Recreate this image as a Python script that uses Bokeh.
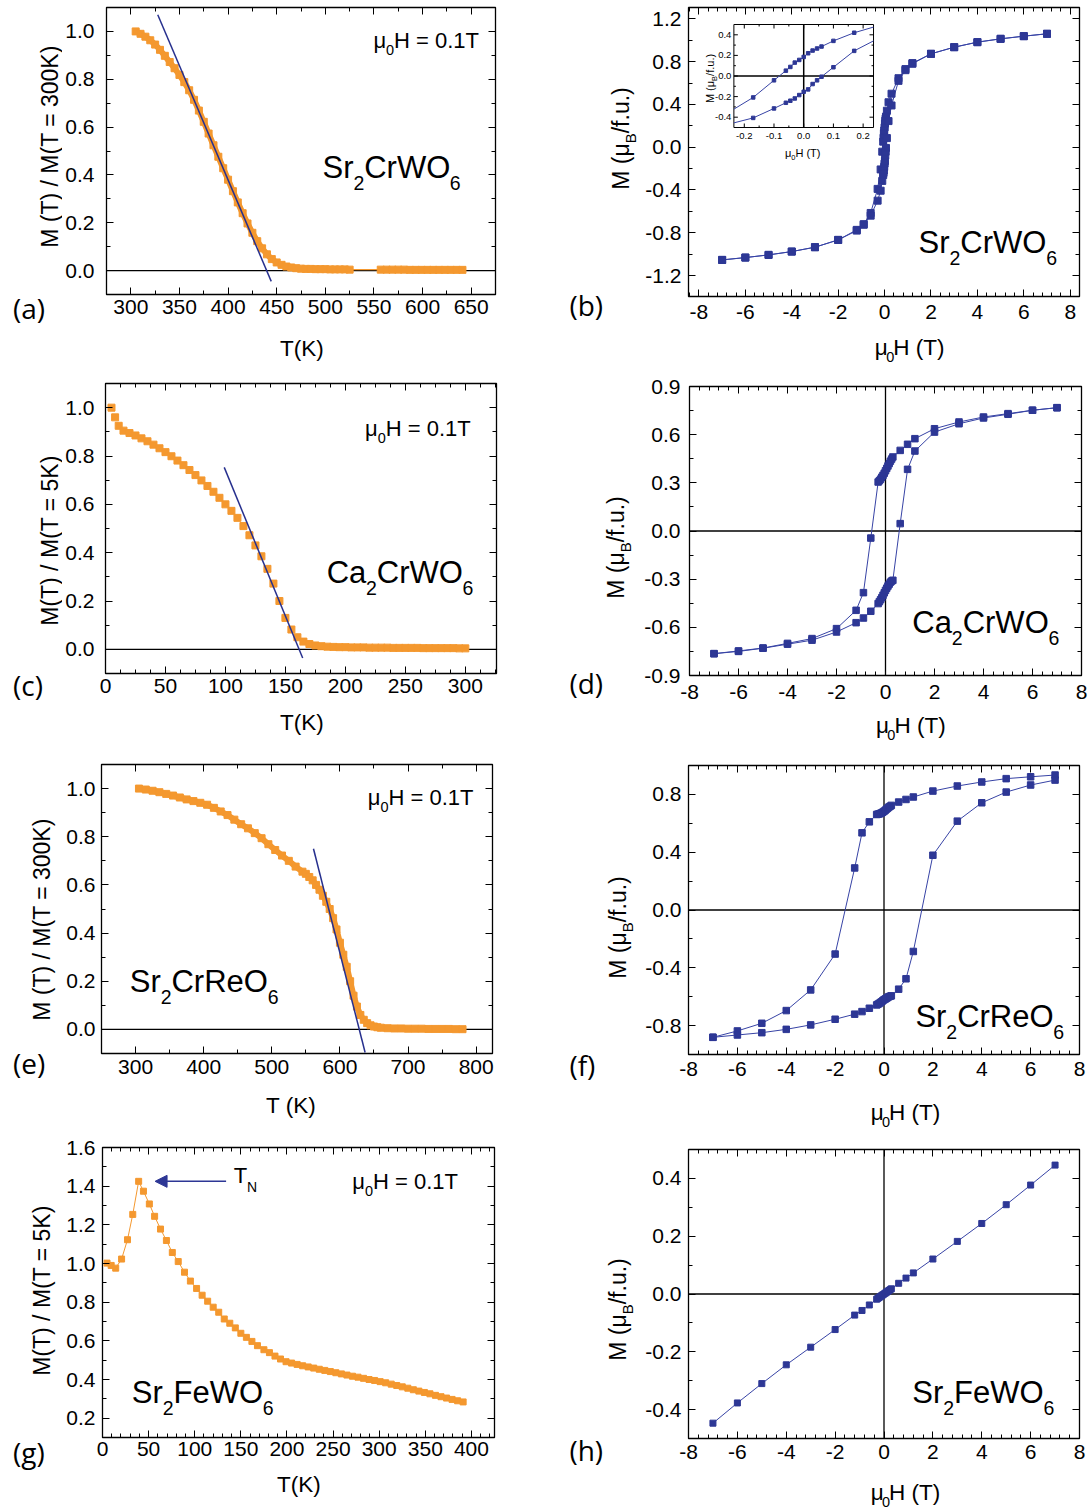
import math
from bokeh.plotting import figure
from bokeh.models import (Range1d, LinearAxis, FixedTicker, CustomJSTickFormatter,
                          Label, Span, Arrow, NormalHead)
from bokeh.layouts import row, column
from bokeh.embed import file_html
from bokeh.resources import INLINE
from bokeh.core.properties import value

# ------------------------------------------------------------------ data
# (a) Sr2CrWO6  M(T)/M(300K)
A_T1 = [305, 310, 315, 320, 325, 330, 335, 340, 345, 350, 355, 360, 365, 370, 375, 380, 385, 390,
        395, 400, 405, 410, 415, 420, 425, 430, 435, 440, 445, 450, 455, 460, 465, 470, 475, 480,
        485, 490, 495, 500, 505, 510, 515, 520, 525]
A_M1 = [1.0, 0.99, 0.978, 0.963, 0.945, 0.923, 0.898, 0.872, 0.846, 0.818, 0.788, 0.754, 0.714,
        0.669, 0.622, 0.573, 0.524, 0.476, 0.428, 0.38, 0.332, 0.285, 0.24, 0.197, 0.158, 0.123,
        0.093, 0.068, 0.048, 0.034, 0.024, 0.017, 0.013, 0.01, 0.008, 0.007, 0.007, 0.006, 0.006,
        0.006, 0.005, 0.005, 0.005, 0.005, 0.004]
A_T2 = [557, 563, 569, 575, 581, 587, 593, 599, 605, 611, 617, 623, 629, 635, 641]
A_M2 = [0.004, 0.004, 0.004, 0.004, 0.004, 0.003, 0.003, 0.003, 0.003, 0.003, 0.003, 0.003,
        0.003, 0.003, 0.003]
FIT_A_T = [327.7, 444.4]
FIT_A_M = [1.07, -0.045]

# (b) Sr2CrWO6 M(H)
B_DN_H = [7, 6, 5, 4, 3, 2, 1.2, 0.9, 0.6, 0.3, 0.17, 0.1, 0.06, 0.045, 0.03, 0.015, 0, -0.015,
          -0.03, -0.045, -0.06, -0.1, -0.17, -0.3, -0.6, -0.9, -1.2, -2, -3, -4, -5, -6, -7]
B_DN_M = [1.06, 1.038, 1.013, 0.982, 0.935, 0.873, 0.786, 0.73, 0.645, 0.5, 0.42, 0.341, 0.286,
          0.267, 0.247, 0.221, 0.185, 0.156, 0.13, 0.088, 0.052, -0.042, -0.208, -0.39, -0.615,
          -0.72, -0.773, -0.867, -0.935, -0.976, -1.007, -1.032, -1.054]
B_UP_H = [-7, -6, -5, -4, -3, -2, -1.2, -0.9, -0.6, -0.3, -0.17, -0.1, -0.06, -0.045, -0.03,
          -0.015, 0, 0.015, 0.03, 0.045, 0.06, 0.1, 0.17, 0.3, 0.6, 0.9, 1.2, 2, 3, 4, 5, 6, 7]
B_UP_M = [-1.054, -1.032, -1.007, -0.976, -0.935, -0.867, -0.78, -0.725, -0.64, -0.5, -0.407,
          -0.315, -0.26, -0.24, -0.218, -0.185, -0.153, -0.13, -0.078, -0.042, -0.007, 0.085,
          0.244, 0.39, 0.62, 0.72, 0.78, 0.873, 0.935, 0.982, 1.013, 1.038, 1.06]
# inset of (b) (first/last entries are where the curve meets the inset frame)
IN_DN_H = [0.235, 0.17, 0.1, 0.06, 0.045, 0.03, 0.015, 0, -0.015, -0.03, -0.045, -0.06, -0.1,
           -0.17, -0.235]
IN_DN_M = [0.475, 0.42, 0.341, 0.286, 0.267, 0.247, 0.221, 0.185, 0.156, 0.13, 0.088, 0.052,
           -0.042, -0.208, -0.322]
IN_UP_H = [-0.235, -0.17, -0.1, -0.06, -0.045, -0.03, -0.015, 0, 0.015, 0.03, 0.045, 0.06, 0.1,
           0.17, 0.235]
IN_UP_M = [-0.455, -0.407, -0.315, -0.26, -0.24, -0.218, -0.185, -0.153, -0.13, -0.078, -0.042,
           -0.007, 0.085, 0.244, 0.341]

# (c) Ca2CrWO6 M(T)/M(5K)
C_T = [5, 8, 11, 15, 20, 25, 30, 35, 40, 45, 50, 55, 60, 65, 70, 75, 80, 85, 90, 95, 100, 105,
       110, 115, 120, 125, 130, 135, 140, 145, 150, 155, 160, 165, 170, 175, 180, 185, 190, 195,
       200, 205, 210, 215, 220, 225, 230, 235, 240, 245, 250, 255, 260, 265, 270, 275, 280, 285,
       290, 295, 300]
C_M = [1.0, 0.96, 0.925, 0.905, 0.895, 0.885, 0.873, 0.861, 0.847, 0.832, 0.816, 0.799, 0.781,
       0.762, 0.742, 0.721, 0.699, 0.676, 0.652, 0.627, 0.6, 0.573, 0.544, 0.51, 0.472, 0.43,
       0.385, 0.333, 0.272, 0.2, 0.13, 0.082, 0.05, 0.032, 0.022, 0.016, 0.013, 0.011, 0.01,
       0.009, 0.009, 0.008, 0.008, 0.008, 0.007, 0.007, 0.007, 0.007, 0.006, 0.006, 0.006, 0.006,
       0.006, 0.005, 0.005, 0.005, 0.005, 0.005, 0.005, 0.004, 0.004]
FIT_C_T = [99, 164.4]
FIT_C_M = [0.753, -0.036]

# field sweeps used in (d) and (f)
SWEEP_DN = [7, 6, 5, 4, 3, 2, 1.2, 0.9, 0.6, 0.3, 0.25, 0.2, 0.15, 0.1, 0.05, 0, -0.05, -0.1,
            -0.15, -0.2, -0.25, -0.3, -0.6, -0.9, -1.2, -2, -3, -4, -5, -6, -7]
SWEEP_UP = [-7, -6, -5, -4, -3, -2, -1.2, -0.9, -0.6, -0.3, -0.25, -0.2, -0.15, -0.1, -0.05, 0,
            0.05, 0.1, 0.15, 0.2, 0.25, 0.3, 0.6, 0.9, 1.2, 2, 3, 4, 5, 6, 7]
# (d) Ca2CrWO6 M(H)
D_DN_M = [0.768, 0.752, 0.731, 0.71, 0.679, 0.637, 0.575, 0.54, 0.502, 0.461, 0.448, 0.435, 0.42,
          0.405, 0.39, 0.375, 0.36, 0.347, 0.335, 0.323, 0.313, 0.305, -0.044, -0.384, -0.494,
          -0.608, -0.67, -0.70, -0.729, -0.747, -0.764]
D_UP_M = [-0.764, -0.75, -0.73, -0.705, -0.68, -0.629, -0.571, -0.542, -0.5, -0.452, -0.44,
          -0.428, -0.415, -0.4, -0.385, -0.37, -0.356, -0.343, -0.331, -0.319, -0.312, -0.307,
          0.046, 0.384, 0.498, 0.616, 0.668, 0.704, 0.727, 0.752, 0.768]

# (e) Sr2CrReO6 M(T)/M(300K)
E_T = [305, 315, 325, 335, 345, 355, 365, 375, 385, 395, 405, 415, 425, 435, 445, 455, 465, 475,
       485, 495, 505, 515, 525, 535, 545, 550, 555, 560, 565, 570, 575, 580, 585, 590, 595, 600,
       605, 610, 615, 620, 625, 630, 635, 640, 645, 650, 655, 660, 670, 680, 690, 700, 710, 720,
       730, 740, 750, 760, 770, 780]
E_M = [1.0, 0.996, 0.991, 0.985, 0.978, 0.971, 0.963, 0.955, 0.948, 0.941, 0.933, 0.92, 0.905,
       0.89, 0.871, 0.852, 0.835, 0.815, 0.794, 0.769, 0.745, 0.722, 0.70, 0.676, 0.655, 0.646,
       0.633, 0.619, 0.6, 0.58, 0.555, 0.53, 0.5, 0.462, 0.415, 0.36, 0.31, 0.26, 0.2, 0.14,
       0.095, 0.06, 0.04, 0.026, 0.017, 0.012, 0.009, 0.007, 0.005, 0.004, 0.004, 0.003, 0.003,
       0.003, 0.002, 0.002, 0.002, 0.002, 0.001, 0.001]
FIT_E_T = [561.2, 637]
FIT_E_M = [0.75, -0.096]

# (f) Sr2CrReO6 M(H)
F_DN_M = [0.934, 0.922, 0.909, 0.886, 0.858, 0.823, 0.782, 0.765, 0.747, 0.724, 0.718, 0.712,
          0.705, 0.698, 0.69, 0.683, 0.677, 0.672, 0.668, 0.665, 0.663, 0.661, 0.61, 0.534, 0.291,
          -0.305, -0.553, -0.696, -0.784, -0.837, -0.881]
F_UP_M = [-0.881, -0.865, -0.849, -0.826, -0.795, -0.756, -0.721, -0.703, -0.68, -0.657, -0.652,
          -0.647, -0.641, -0.635, -0.628, -0.621, -0.616, -0.611, -0.605, -0.6, -0.597, -0.594,
          -0.548, -0.476, -0.287, 0.379, 0.615, 0.742, 0.816, 0.865, 0.899]

# (g) Sr2FeWO6 M(T)/M(5K)
G_T = [4.9, 9.4, 14.3, 20.7, 27.1, 32.8, 39.2, 44.4, 50.8, 56.5, 62.9, 69.3, 75.7, 82.1, 88.9,
       95.3, 102, 108, 114, 120, 126, 132, 138, 144, 150, 156, 162, 168, 175, 181, 187, 193, 199,
       205, 211, 217, 223, 229, 235, 241, 247, 253, 259, 265, 271, 277, 283, 289, 295, 301, 307,
       313, 319, 325, 331, 337, 343, 349, 355, 361, 367, 373, 379, 385, 391]
G_M = [1.002, 0.99, 0.976, 1.023, 1.123, 1.254, 1.425, 1.374, 1.308, 1.244, 1.178, 1.119, 1.057,
       1.01, 0.955, 0.909, 0.871, 0.836, 0.805, 0.774, 0.748, 0.713, 0.691, 0.667, 0.639, 0.618,
       0.597, 0.575, 0.554, 0.539, 0.521, 0.506, 0.492, 0.485, 0.478, 0.471, 0.465, 0.459, 0.453,
       0.447, 0.441, 0.435, 0.429, 0.423, 0.417, 0.412, 0.406, 0.4, 0.395, 0.389, 0.383, 0.376,
       0.369, 0.362, 0.355, 0.347, 0.34, 0.333, 0.326, 0.318, 0.311, 0.304, 0.297, 0.29, 0.284]
TN_ARROW_T = [134, 57]
TN_ARROW_M = 1.425

# (h) Sr2FeWO6 M(H)
H_H = [-7, -6, -5, -4, -3, -2, -1.2, -0.9, -0.6, -0.3, -0.25, -0.2, -0.15, -0.1, -0.05, 0, 0.05,
       0.1, 0.15, 0.2, 0.25, 0.3, 0.6, 0.9, 1.2, 2, 3, 4, 5, 6, 7]
H_M = [-0.447, -0.377, -0.31, -0.245, -0.184, -0.123, -0.073, -0.057, -0.038, -0.018, -0.015,
       -0.012, -0.009, -0.006, -0.003, 0.0, 0.003, 0.006, 0.009, 0.012, 0.015, 0.018, 0.037,
       0.055, 0.073, 0.121, 0.182, 0.244, 0.309, 0.377, 0.446]

# tick values / labels
A_XT = [300, 350, 400, 450, 500, 550, 600, 650]
A_XL = ["300", "350", "400", "450", "500", "550", "600", "650"]
C_XT = [0, 50, 100, 150, 200, 250, 300]
C_XL = ["0", "50", "100", "150", "200", "250", "300"]
E_XT = [300, 400, 500, 600, 700, 800]
E_XL = ["300", "400", "500", "600", "700", "800"]
G_XT = [0, 50, 100, 150, 200, 250, 300, 350, 400]
G_XL = ["0", "50", "100", "150", "200", "250", "300", "350", "400"]
FLD_XT = [-8, -6, -4, -2, 0, 2, 4, 6, 8]
FLD_XL = ["-8", "-6", "-4", "-2", "0", "2", "4", "6", "8"]
NORM_YT = [0.0, 0.2, 0.4, 0.6, 0.8, 1.0]
NORM_YL = ["0.0", "0.2", "0.4", "0.6", "0.8", "1.0"]
B_YT = [-1.2, -0.8, -0.4, 0.0, 0.4, 0.8, 1.2]
B_YL = ["-1.2", "-0.8", "-0.4", "0.0", "0.4", "0.8", "1.2"]
D_YT = [-0.9, -0.6, -0.3, 0.0, 0.3, 0.6, 0.9]
D_YL = ["-0.9", "-0.6", "-0.3", "0.0", "0.3", "0.6", "0.9"]
F_YT = [-0.8, -0.4, 0.0, 0.4, 0.8]
F_YL = ["-0.8", "-0.4", "0.0", "0.4", "0.8"]
G_YT = [0.2, 0.4, 0.6, 0.8, 1.0, 1.2, 1.4, 1.6]
G_YL = ["0.2", "0.4", "0.6", "0.8", "1.0", "1.2", "1.4", "1.6"]
H_YT = [-0.4, -0.2, 0.0, 0.2, 0.4]
H_YL = ["-0.4", "-0.2", "0.0", "0.2", "0.4"]
IN_XT = [-0.2, -0.1, 0.0, 0.1, 0.2]
IN_XL = ["-0.2", "-0.1", "0.0", "0.1", "0.2"]
IN_YT = [-0.4, -0.2, 0.0, 0.2, 0.4]
IN_YL = ["-0.4", "-0.2", "0.0", "0.2", "0.4"]

# ------------------------------------------------------------------ style / layout
FONT = "Liberation Sans"
PFONT = "Open Sans"
MID = 0.3465      # distance baseline -> middle of text box, in em (Liberation Sans)
PMID = 0.388      # same for Open Sans
ORANGE = "#F4982F"
BLUE = "#2D3795"
LBLUE = "#3743A5"
FITC = "#27308E"
TICK_FS = "21px"

# panel geometry (pixels, relative to the panel's top-left); Ls = left strip width,
# Hm = height of the plot figure (the rest below holds the x title)
GEO = {
    'a': dict(W=545, H=375, L=104, T=7, fw=391, fh=287, Ls=62, Hm=325, x0=275, x1=675, y0=-0.1, y1=1.1),
    'b': dict(W=544, H=375, L=142, T=7, fw=392, fh=289, Ls=97, Hm=330, x0=-8.45, x1=8.40, y0=-1.396, y1=1.306),
    'c': dict(W=545, H=375, L=103, T=8, fw=393, fh=290, Ls=62, Hm=329, x0=0, x1=326, y0=-0.1, y1=1.1),
    'd': dict(W=544, H=375, L=143, T=11, fw=393, fh=289, Ls=96, Hm=335, x0=-8, x1=8, y0=-0.9, y1=0.9),
    'e': dict(W=545, H=380, L=100, T=14, fw=392, fh=289, Ls=63, Hm=335, x0=250, x1=824, y0=-0.1, y1=1.1),
    'f': dict(W=544, H=380, L=142, T=15, fw=392, fh=289, Ls=97, Hm=337, x0=-8, x1=8, y0=-1.0, y1=1.0),
    'g': dict(W=545, H=380, L=101, T=17, fw=393, fh=290, Ls=63, Hm=335, x0=0, x1=425, y0=0.1, y1=1.6),
    'h': dict(W=544, H=380, L=142, T=19, fw=392, fh=289, Ls=97, Hm=340, x0=-8, x1=8, y0=-0.5, y1=0.5),
}

AW = {' ': 278, '(': 333, ')': 333, '/': 278, '.': 278, '=': 584, '-': 333, 'A': 667, 'B': 667,
      'C': 722, 'F': 611, 'H': 722, 'K': 667, 'M': 833, 'N': 722, 'O': 778, 'R': 722, 'S': 667,
      'T': 611, 'W': 944, 'a': 556, 'e': 556, 'f': 278, 'r': 333, 'u': 556, 'μ': 576}


def tw(s, size):
    return sum(AW.get(ch, 556) for ch in s) * size / 1000.0


def minors(a, b, s):
    n = int(round((b - a) / s))
    return [round(a + i * s, 6) for i in range(n + 1)]


FMT = """
let b = 0, bd = Infinity;
for (let i = 0; i < t.length; i++) { const d = Math.abs(t[i] - tick); if (d < bd) { bd = d; b = i; } }
return l[b];
"""


def strip(w, h):
    s = figure(width=w, height=h, x_range=Range1d(0, w), y_range=Range1d(h, 0),
               output_backend="svg", toolbar_location=None, tools="",
               x_axis_type=None, y_axis_type=None, min_border=0,
               min_border_left=0, min_border_right=0, min_border_top=0, min_border_bottom=0)
    s.outline_line_color = None
    s.background_fill_color = "white"
    s.border_fill_color = "white"
    return s


class Panel:
    def __init__(self, key):
        g = GEO[key]
        self.g = g
        W, H, Ls, Hm = g['W'], g['H'], g['Ls'], g['Hm']
        p = figure(width=W - Ls, height=Hm,
                   x_range=Range1d(g['x0'], g['x1']), y_range=Range1d(g['y0'], g['y1']),
                   output_backend="svg", toolbar_location=None, tools="",
                   x_axis_type=None, y_axis_type=None,
                   min_border_left=g['L'] - Ls, min_border_top=g['T'],
                   min_border_right=W - g['L'] - g['fw'],
                   min_border_bottom=Hm - g['T'] - g['fh'])
        p.outline_line_color = "black"
        p.outline_line_width = 1.3
        p.background_fill_color = "white"
        p.border_fill_color = "white"
        self.p = p
        self.left = strip(Ls, H)
        self.bottom = strip(W - Ls, H - Hm)

    # panel-local pixel -> target coordinates
    def main_xy(self, X, Y):
        g = self.g
        x = g['x0'] + (X - g['L']) / g['fw'] * (g['x1'] - g['x0'])
        y = g['y1'] - (Y - g['T']) / g['fh'] * (g['y1'] - g['y0'])
        return x, y

    def target(self, where):
        g = self.g
        if where == "main":
            return self.p, self.main_xy
        if where == "left":
            return self.left, lambda X, Y: (X, Y)
        return self.bottom, lambda X, Y: (X - g['Ls'], Y - g['Hm'])

    def layout(self):
        return row(self.left, column(self.p, self.bottom))


def axes(p, xt, xl, xm, yt, yl, ym, xso, yso):
    spec = [("below", xt, xl, xm, xso), ("left", yt, yl, ym, yso),
            ("above", xt, None, xm, 0), ("right", yt, None, ym, 0)]
    for loc, t, l, m, so in spec:
        ax = LinearAxis(ticker=FixedTicker(ticks=t, minor_ticks=m))
        if l is None:
            ax.formatter = CustomJSTickFormatter(code="return '';")
            ax.major_label_text_font_size = "0px"
        else:
            ax.formatter = CustomJSTickFormatter(args=dict(t=t, l=l), code=FMT)
            ax.major_label_text_font_size = TICK_FS
            ax.major_label_text_font = FONT
            ax.major_label_text_color = "black"
        ax.major_label_standoff = int(round(so))
        ax.axis_line_color = None
        ax.major_tick_in = 7
        ax.major_tick_out = 0
        ax.minor_tick_in = 4
        ax.minor_tick_out = 0
        ax.major_tick_line_color = "black"
        ax.minor_tick_line_color = "black"
        ax.major_tick_line_width = 1
        ax.minor_tick_line_width = 1
        p.add_layout(ax, loc)


def put(fig, tx, X, Y, text, size, font, angle=0.0):
    x, y = tx(X, Y)
    fig.add_layout(Label(x=x, y=y, text=text, text_font=font,
                         text_font_size="%.1fpx" % size, text_align="left",
                         text_baseline="middle", angle=angle, text_color="black"))


def rich(pn, where, X, Y, parts, size, sub, drop, vertical=False, center=False, font=FONT):
    """X, Y: start (or centre) of the text on its baseline, panel pixels."""
    fig, tx = pn.target(where)
    widths = [tw(t, sub if s else size) for t, s in parts]
    total = sum(widths)
    if not vertical:
        cx = X - total / 2 if center else X
        for (t, s), w in zip(parts, widths):
            fs = sub if s else size
            put(fig, tx, cx, Y + (drop if s else 0) - MID * fs, t, fs, font)
            cx += w
    else:
        cy = Y + total / 2
        for (t, s), w in zip(parts, widths):
            fs = sub if s else size
            put(fig, tx, X + (drop if s else 0) - MID * fs, cy, t, fs, font, math.pi / 2)
            cy -= w


def tag(pn, X, Y, text):
    fig, tx = pn.target("left")
    put(fig, tx, X, Y - PMID * 28, text, 28, PFONT)


def zero_lines(p, both):
    p.add_layout(Span(location=0, dimension="width", line_color="black", line_width=1.3,
                      level="underlay"))
    if both:
        p.add_layout(Span(location=0, dimension="height", line_color="black", line_width=1.3,
                          level="underlay"))


FIELD = [("μ", 0), ("0", 1), ("H = 0.1T", 0)]
HLAB = [("μ", 0), ("0", 1), ("H (T)", 0)]
MLAB = [("M (μ", 0), ("B", 1), ("/f.u.)", 0)]
YL, YS, YD = 23, 15, 7
XL = 22.5


def field_titles(pn, xcx, xby, ybx, ycy):
    rich(pn, "bottom", xcx, xby, HLAB, XL, 14.5, 7, center=True)
    rich(pn, "left", ybx, ycy, MLAB, YL, YS, YD, vertical=True)


def comp(pn, X, Y, a, b):
    rich(pn, "main", X, Y, [(a, 0), ("2", 1), (b, 0), ("6", 1)], 31, 19.5, 11.5)


def field_note(pn, X, Y):
    rich(pn, "main", X, Y, FIELD, 22, 14.5, 6.5)


# ------------------------------------------------------------------ (a)
A = Panel('a')
p = A.p
axes(p, A_XT, A_XL, minors(275, 675, 25), NORM_YT, NORM_YL, minors(-0.1, 1.1, 0.1), 5, 12)
zero_lines(p, False)
p.line(A_T1 + A_T2, A_M1 + A_M2, line_color=ORANGE, line_width=1.2)
p.line(A_T1, A_M1, line_color=ORANGE, line_width=6)
p.line(A_T2, A_M2, line_color=ORANGE, line_width=6)
p.scatter(A_T1 + A_T2, A_M1 + A_M2, marker="square", size=7, color=ORANGE)
p.line(FIT_A_T, FIT_A_M, line_color=FITC, line_width=1.5)
rich(A, "left", 57, 146, [("M (T) / M(T = 300K)", 0)], YL, YS, YD, vertical=True)
rich(A, "bottom", 299.3, 356, [("T(K)", 0)], XL, 14, 7, center=True)
field_note(A, 372.3, 48)
comp(A, 321.2, 178, "Sr", "CrWO")
tag(A, 12.5, 318, "(a)")

# ------------------------------------------------------------------ (b)
B = Panel('b')
p = B.p
g = B.g
axes(p, FLD_XT, FLD_XL, minors(-8.4, 8.4, 0.4), B_YT, B_YL, minors(-1.4, 1.2, 0.2), 8, 7)
p.line(B_DN_H, B_DN_M, line_color=LBLUE, line_width=1)
p.line(B_UP_H, B_UP_M, line_color=LBLUE, line_width=1)
p.scatter(B_DN_H, B_DN_M, marker="square", size=7, color=BLUE)
p.scatter(B_UP_H, B_UP_M, marker="square", size=7, color=BLUE)
field_titles(B, 346.1, 355, 83.3, 138)
comp(B, 372.7, 253, "Sr", "CrWO")
tag(B, 23.9, 315, "(b)")

# inset: extra ranges mapped onto the inset box inside the frame of (b)
IX0, IX1, IY0, IY1 = -0.235, 0.235, -0.5, 0.5            # inset axis limits
ibox = dict(left=187.5, right=327.5, top=24, bottom=127)   # inset box, panel pixels
sx = (IX1 - IX0) / (ibox['right'] - ibox['left'])
sy = (IY1 - IY0) / (ibox['bottom'] - ibox['top'])
p.extra_x_ranges = {"ix": Range1d(IX0 - (ibox['left'] - g['L']) * sx,
                                  IX1 + (g['L'] + g['fw'] - ibox['right']) * sx)}
p.extra_y_ranges = {"iy": Range1d(IY0 - (g['T'] + g['fh'] - ibox['bottom']) * sy,
                                  IY1 + (ibox['top'] - g['T']) * sy)}
IR = dict(x_range_name="ix", y_range_name="iy")
p.quad(left=[IX0], right=[IX1], bottom=[IY0], top=[IY1], fill_color="white",
       line_color="black", line_width=1, **IR)
p.segment(x0=[0, IX0], y0=[IY0, 0], x1=[0, IX1], y1=[IY1, 0], line_color="black",
          line_width=1.5, **IR)
tx0, tx1, ty0, ty1 = [], [], [], []
for v, ln in [(t, 4) for t in IN_XT] + [(t, 2) for t in minors(-0.15, 0.15, 0.1)]:
    tx0 += [v, v]; tx1 += [v, v]
    ty0 += [IY0, IY1]; ty1 += [IY0 + ln * sy, IY1 - ln * sy]
for v, ln in [(t, 4) for t in IN_YT] + [(t, 2) for t in minors(-0.3, 0.3, 0.2)]:
    ty0 += [v, v]; ty1 += [v, v]
    tx0 += [IX0, IX1]; tx1 += [IX0 + ln * sx, IX1 - ln * sx]
p.segment(x0=tx0, y0=ty0, x1=tx1, y1=ty1, line_color="black", line_width=1, **IR)
p.line(IN_DN_H, IN_DN_M, line_color=LBLUE, line_width=1, **IR)
p.line(IN_UP_H, IN_UP_M, line_color=LBLUE, line_width=1, **IR)
p.scatter(IN_DN_H[1:-1], IN_DN_M[1:-1], marker="square", size=3.5, color=BLUE, **IR)
p.scatter(IN_UP_H[1:-1], IN_UP_M[1:-1], marker="square", size=3.5, color=BLUE, **IR)
lab_y = IY1 - (139 - MID * 9.5 - ibox['top']) * sy
p.text(x=IN_XT, y=[lab_y] * len(IN_XT), text=IN_XL, text_font=value(FONT),
       text_font_size="9.5px", text_align="center", text_baseline="middle",
       text_color="black", **IR)
lab_x = IX0 - (ibox['left'] - 185) * sx
p.text(x=[lab_x] * len(IN_YT), y=IN_YT, text=IN_YL, text_font=value(FONT),
       text_font_size="9.5px", text_align="right", text_baseline="middle",
       text_color="black", **IR)
rich(B, "main", 256.5, 156, HLAB, 11, 7.5, 3.5, center=True)
rich(B, "main", 167, 78, MLAB, 11, 7.5, 3.5, vertical=True)

# ------------------------------------------------------------------ (c)
C = Panel('c')
p = C.p
axes(p, C_XT, C_XL, minors(0, 325, 12.5), NORM_YT, NORM_YL, minors(-0.1, 1.1, 0.1), 5, 11)
zero_lines(p, False)
p.scatter(C_T, C_M, marker="square", size=7, color=ORANGE)
p.line(FIT_C_T, FIT_C_M, line_color=FITC, line_width=1.5)
rich(C, "left", 57, 165, [("M(T) / M(T = 5K)", 0)], YL, YS, YD, vertical=True)
rich(C, "bottom", 299.3, 355, [("T(K)", 0)], XL, 14, 7, center=True)
field_note(C, 363.9, 61)
comp(C, 325.3, 208, "Ca", "CrWO")
tag(C, 12.5, 320, "(c)")

# ------------------------------------------------------------------ (d)
D = Panel('d')
p = D.p
axes(p, FLD_XT, FLD_XL, minors(-8, 8, 0.4), D_YT, D_YL, minors(-0.9, 0.9, 0.15), 9, 9)
zero_lines(p, True)
p.line(SWEEP_DN, D_DN_M, line_color=LBLUE, line_width=1)
p.line(SWEEP_UP, D_UP_M, line_color=LBLUE, line_width=1)
p.scatter(SWEEP_DN, D_DN_M, marker="square", size=6.5, color=BLUE)
p.scatter(SWEEP_UP, D_UP_M, marker="square", size=6.5, color=BLUE)
field_titles(D, 345.3, 358, 78.1, 172)
comp(D, 366.4, 258, "Ca", "CrWO")
tag(D, 23.9, 318, "(d)")

# ------------------------------------------------------------------ (e)
E = Panel('e')
p = E.p
axes(p, E_XT, E_XL, minors(250, 800, 50), NORM_YT, NORM_YL, minors(-0.1, 1.1, 0.1), 6, 6)
zero_lines(p, False)
p.line(E_T, E_M, line_color=ORANGE, line_width=6)
p.scatter(E_T, E_M, marker="square", size=7, color=ORANGE)
p.line(FIT_E_T, FIT_E_M, line_color=FITC, line_width=1.5)
rich(E, "left", 49, 169, [("M (T) / M(T = 300K)", 0)], YL, YS, YD, vertical=True)
rich(E, "bottom", 290.9, 363, [("T (K)", 0)], XL, 14, 7, center=True)
field_note(E, 367, 55)
comp(E, 128.3, 242, "Sr", "CrReO")
tag(E, 12.5, 323, "(e)")

# ------------------------------------------------------------------ (f)
F = Panel('f')
p = F.p
axes(p, FLD_XT, FLD_XL, minors(-8, 8, 0.4), F_YT, F_YL, minors(-1.0, 1.0, 0.2), 7, 7)
zero_lines(p, True)
p.line(SWEEP_DN, F_DN_M, line_color=LBLUE, line_width=1)
p.line(SWEEP_UP, F_UP_M, line_color=LBLUE, line_width=1)
p.scatter(SWEEP_DN, F_DN_M, marker="square", size=6.5, color=BLUE)
p.scatter(SWEEP_UP, F_UP_M, marker="square", size=6.5, color=BLUE)
field_titles(F, 341.4, 370, 80.2, 177)
comp(F, 369.5, 277, "Sr", "CrReO")
tag(F, 23.9, 325, "(f)")

# ------------------------------------------------------------------ (g)
G = Panel('g')
p = G.p
axes(p, G_XT, G_XL, minors(0, 420, 10), G_YT, G_YL, minors(0.1, 1.6, 0.1), 4, 7)
p.line(G_T, G_M, line_color=ORANGE, line_width=1)
p.scatter(G_T, G_M, marker="square", size=6, color=ORANGE)
p.add_layout(Arrow(end=NormalHead(size=12, fill_color=BLUE, line_color=BLUE),
                   x_start=TN_ARROW_T[0], y_start=TN_ARROW_M,
                   x_end=TN_ARROW_T[1], y_end=TN_ARROW_M,
                   line_color=BLUE, line_width=1.5))
rich(G, "main", 232.5, 53, [("T", 0), ("N", 1)], 22, 14, 8.5)
rich(G, "left", 49, 160, [("M(T) / M(T = 5K)", 0)], YL, YS, YD, vertical=True)
rich(G, "bottom", 299.3, 362, [("T(K)", 0)], XL, 14, 7, center=True)
field_note(G, 351.4, 59)
comp(G, 130.3, 273, "Sr", "FeWO")
tag(G, 12.5, 332, "(g)")

# ------------------------------------------------------------------ (h)
Hp = Panel('h')
p = Hp.p
axes(p, FLD_XT, FLD_XL, minors(-8, 8, 0.4), H_YT, H_YL, minors(-0.5, 0.5, 0.1), 6, 7)
zero_lines(p, True)
p.line(H_H, H_M, line_color=LBLUE, line_width=1)
p.scatter(H_H, H_M, marker="square", size=6, color=BLUE)
field_titles(Hp, 341.4, 370, 80.2, 179)
comp(Hp, 366.4, 273, "Sr", "FeWO")
tag(Hp, 23.9, 330, "(h)")

root = column(row(A.layout(), B.layout()), row(C.layout(), D.layout()),
              row(E.layout(), F.layout()), row(G.layout(), Hp.layout()))
open("out.html", "w").write(file_html(root, INLINE))
